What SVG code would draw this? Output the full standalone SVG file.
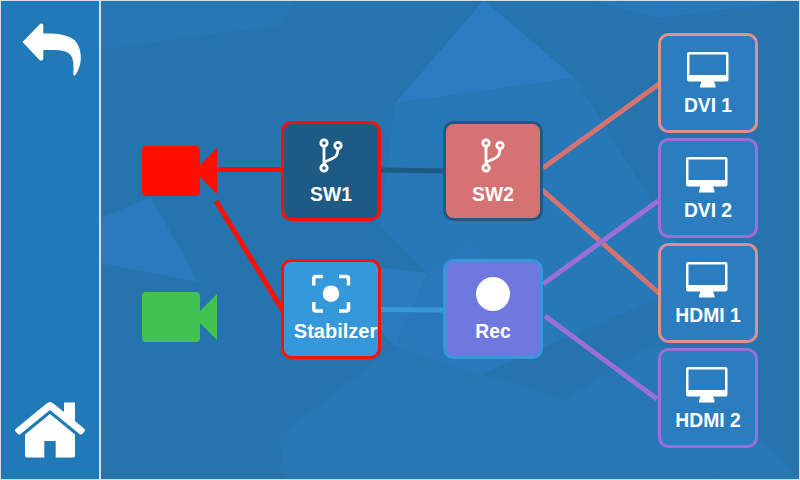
<svg xmlns="http://www.w3.org/2000/svg" width="800" height="480" viewBox="0 0 800 480">
<style>
text{font-family:"Liberation Sans",Arial,sans-serif;font-weight:700;font-size:19.300px;fill:#fff;text-anchor:middle}
.n{stroke-width:3}
.o1{fill:#2b7dbf}
.c{fill:none;stroke-width:5}
.w{fill:#fff}
.o{fill:none;stroke:#fff;stroke-width:3.500}
.f{fill:none;stroke:#fff;stroke-width:2.800}
</style>
<defs>
<g id="mon"><path class="w" fill-rule="evenodd" d="M2 0H39.500a2 2 0 0 1 2 2V27.500a2 2 0 0 1-2 2H27L28.500 33.500V35.500H13V33.500L14.500 29.500H2a2 2 0 0 1-2-2V2a2 2 0 0 1 2-2ZM2.500 2.500V23H39V2.500Z"/></g>
<g id="fork"><path class="f" d="M0 3V22M14 5.500C14 14 10 15 5 17C2 18 0 19 0 22"/><circle class="f" cx="0" cy="0" r="3.200"/><circle class="f" cx="14" cy="2.500" r="3.200"/><circle class="f" cx="0" cy="25" r="3.200"/></g>
<path id="cam" d="M4 0H54a4 4 0 0 1 4 4V46a4 4 0 0 1-4 4H4a4 4 0 0 1-4-4V4a4 4 0 0 1 4-4ZM58 19L75 2V48L58 31Z"/>
</defs>
<rect width="800" height="480" fill="#2574ae"/>
<g id="background">
<polygon points="395,103 575,78 700,280 560,340 428,273 380,225" fill="#2778b6"/>
<polygon points="484,0 575,78 395,103" fill="#2b7cc0"/>
<polygon points="100,218 151,197 198,282 100,263" fill="#2a7abd"/>
<polygon points="591,0 658,18 800,0" fill="#2878ba"/>
<polygon points="100,0 296,0 280,25 100,50" fill="#2777b3"/>
<polygon points="395,347 279,435 285,480 725,480 565,400" fill="#2777b4"/>
<polygon points="330,262 428,273 395,347 350,295" fill="#2a7cbc"/>
<polygon points="428,273 470,240 560,340 480,375 395,347" fill="#2979ba"/>
<polygon points="565,400 660,340 800,480 725,480" fill="#2777b5"/>
</g>
<rect x="0.500" y="0.500" width="99" height="479" fill="#217ab8"/>
<rect x="0.500" y="0.500" width="799" height="479" fill="none" stroke="#d6dde3"/>
<rect x="99" y="0" width="2" height="480" fill="#d9dfe4"/>
<g id="back"><path class="w" d="M22.500 42L39.500 24.500Q42 22.500 43.300 25V33.500C56 33 68 34.500 74.500 40C80.500 46 81.500 56 80.500 62C79.500 68 76.500 74 75 75.500Q73.300 76 73.300 74C74 64 73.500 57 69 53.500C64 49.500 54 50 43.300 50V59Q42 62 39.500 60Z"/></g>
<g id="home"><path class="w" d="M50 402Q48.500 402 46 404L15.500 429Q14.500 430 15.500 431.500L18 434Q19 435 20.500 434L50 410L79.500 434Q81 435 82 434L84.500 431.500Q85.500 430 84.500 429L75 421V402.500H64V412L54 404Q51.500 402 50 402Z"/><path class="w" d="M50 414L75 434.500V455.500a2 2 0 0 1-2 2H55.700V441H44.300V457.500H27a2 2 0 0 1-2-2V434.500Z"/></g>
<g id="connectors">
<path class="c" stroke="#ff0f00" d="M218 169.500H283"/>
<path class="c" stroke="#ff0f00" d="M216 201L283 311"/>
<path class="c" stroke="#1d5a84" d="M380 170L444 171"/>
<path class="c" stroke="#3498db" d="M380 309.500L444 310"/>
<path class="c" stroke="#d57373" d="M543 168L659 84"/>
<path class="c" stroke="#d57373" d="M540 188L660 294"/>
<path class="c" stroke="#9b6fd8" d="M543 284L658 201"/>
<path class="c" stroke="#9b6fd8" d="M545 316L657 399"/>
</g>
<g id="cam1"><use href="#cam" x="142" y="146" fill="#ff0f00"/></g>
<g id="cam2"><use href="#cam" x="142" y="292" fill="#41c353"/></g>
<g id="sw1"><rect class="n" x="282.500" y="122.500" width="97" height="97" rx="9" fill="#1d5a84" stroke="#ff0f00"/><use href="#fork" x="324" y="143"/><text x="331" y="201">SW1</text></g>
<g id="sw2"><rect class="n" x="444.500" y="122.500" width="97" height="97" rx="9" fill="#d57373" stroke="#1d5a84"/><use href="#fork" x="486" y="143"/><text x="493" y="201">SW2</text></g>
<g id="stab"><rect class="n" x="282.500" y="260.500" width="97" height="97" rx="9" fill="#3498db" stroke="#ff0f00"/><circle class="w" cx="331" cy="293.700" r="8.300"/><path class="o" d="M323 276.500H316Q313.800 276.500 313.800 278.500V285.500M339 276.500H346Q348.500 276.500 348.500 278.500V285.500M323 311H316Q313.800 311 313.800 309V302M339 311H346Q348.500 311 348.500 309V302"/><text x="335.500" y="338" style="font-size:20px">Stabilzer</text></g>
<g id="rec"><rect class="n" x="444.500" y="260.500" width="97" height="97" rx="9" fill="#6f78de" stroke="#3498db"/><circle class="w" cx="493" cy="294" r="17"/><text x="493" y="338">Rec</text></g>
<g id="dvi1"><rect class="n o1" x="659.500" y="34.500" width="97" height="97" rx="9" stroke="#e08e8e"/><use href="#mon" x="687" y="52"/><text x="708" y="112">DVI 1</text></g>
<g id="dvi2"><rect class="n o1" x="659.500" y="139.500" width="97" height="97" rx="9" stroke="#9b6fd8"/><use href="#mon" x="686" y="157"/><text x="708" y="217">DVI 2</text></g>
<g id="hdmi1"><rect class="n o1" x="659.500" y="244.500" width="97" height="97" rx="9" stroke="#e08e8e"/><use href="#mon" x="686" y="262"/><text x="708" y="322">HDMI 1</text></g>
<g id="hdmi2"><rect class="n o1" x="659.500" y="349.500" width="97" height="97" rx="9" stroke="#9b6fd8"/><use href="#mon" x="686" y="367"/><text x="708" y="427">HDMI 2</text></g>
</svg>
